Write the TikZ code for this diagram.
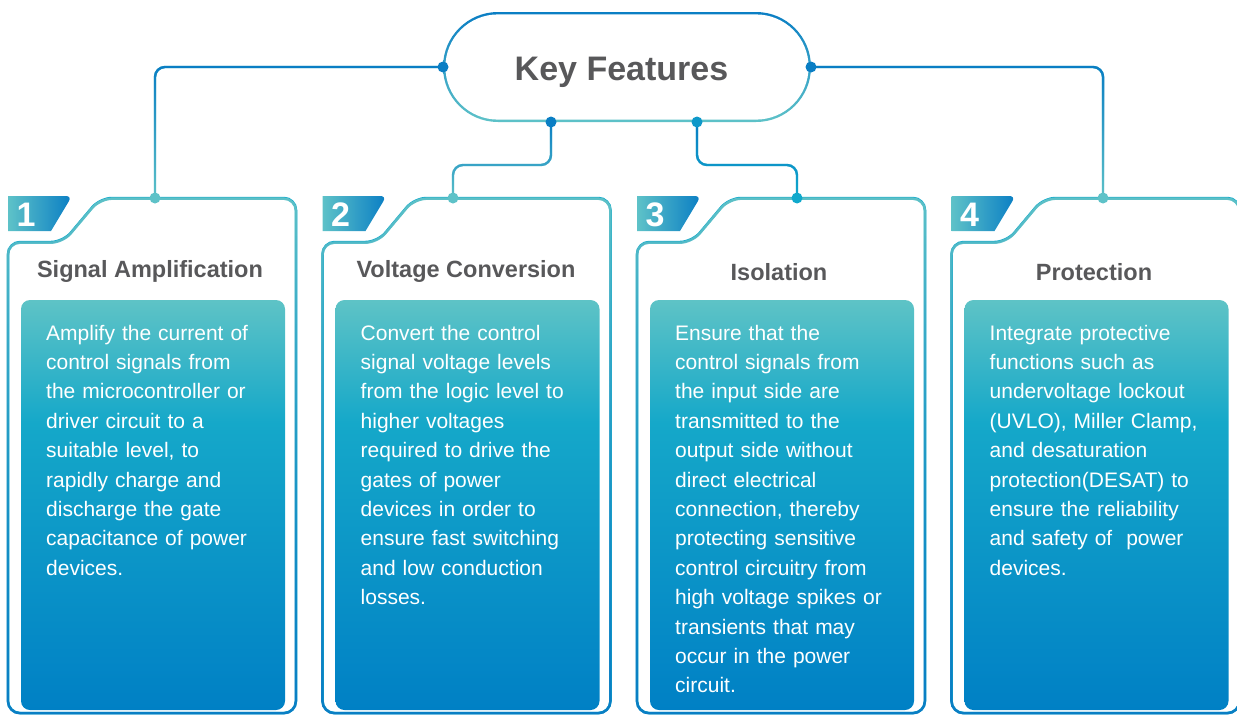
\documentclass[tikz,border=0pt]{standalone}
\usepackage{fontspec}
\setmainfont{Liberation Sans}
\usetikzlibrary{fadings}

\definecolor{kfteal}{HTML}{5EC2C8}
\definecolor{kfblue}{HTML}{0A7EC4}
\definecolor{kfcyan}{HTML}{10A9CC}
\definecolor{kfmid}{HTML}{15A8C9}
\definecolor{kfdeep}{HTML}{0080C5}
\definecolor{kflight}{HTML}{5EC3C6}
\definecolor{kfgrey}{HTML}{58585A}

\pgfdeclareverticalshading{cardfill}{100bp}{color(0bp)=(kfdeep); color(25bp)=(kfdeep);
  color(60bp)=(kfmid); color(75bp)=(kflight); color(100bp)=(kflight)}
\tikzfading[name=fade top part, top color=transparent!0, middle color=transparent!100,
  bottom color=transparent!100]
\tikzfading[name=fade bottom part, top color=transparent!100, middle color=transparent!100,
  bottom color=transparent!0]

\begin{document}
\begin{tikzpicture}[x=1pt,y=-1pt,
    wire/.style={line width=2.4pt, draw=kfteal},
    wireblue/.style={line width=2.4pt, draw=kfblue, path fading=south},
    edge/.style={line width=2.5pt, draw=kfcyan, rounded corners=12},
    heading/.style={font=\bfseries\fontsize{23.5}{28}\selectfont, text=kfgrey, anchor=base, inner sep=0pt},
    body/.style={font=\fontsize{21}{29.4}\selectfont, text=white, anchor=base west,
                 inner sep=0pt, align=left, text width=250pt},
    number/.style={font=\bfseries\fontsize{34}{34}\selectfont, text=white, anchor=base west, inner sep=0pt}]
        \useasboundingbox (0,0) rectangle (1237,715);

        % hub
        \shade[top color=kfblue, bottom color=kfteal, rounded corners=55] (443,12) rectangle (811,122);
        \fill[white, rounded corners=52.6] (445.4,14.4) rectangle (808.6,119.6);
        \node[font=\bfseries\fontsize{34}{34}\selectfont, text=kfgrey, anchor=base, inner sep=0pt]
             (key) at (621.5,80) {Key Features};

        \coordinate (kwest) at (443,67);
        \coordinate (keast) at (811,67);
        \coordinate (ksw) at (551,122);
        \coordinate (kse) at (697,122);
        \coordinate (amp) at (155,198);
        \coordinate (volt) at (453,198);
        \coordinate (iso) at (797,198);
        \coordinate (prot) at (1103,198);

        % cards
        \foreach \x/\n in {8/1,322.5/2,637/3,951.5/4}{
            \draw[edge] (\x,713) -- (\x,242) -- (\x+55,242) -- (\x+92,198)
                  -- (\x+288,198) -- (\x+288,713) -- cycle;
            \draw[edge, draw=kfteal, path fading=fade top part] (\x,713) -- (\x,242) -- (\x+55,242)
                  -- (\x+92,198) -- (\x+288,198) -- (\x+288,713) -- cycle;
            \draw[edge, draw=kfblue, path fading=fade bottom part] (\x,713) -- (\x,242) -- (\x+55,242)
                  -- (\x+92,198) -- (\x+288,198) -- (\x+288,713) -- cycle;
            \shade[left color=kfteal, right color=kfblue] (\x,196) [rounded corners=6] -- (\x+64,196)
                  [sharp corners] -- (\x+43,231) -- (\x,231) -- cycle;
            \node[number] at (\x+8.5,226) {\n};
            \shade[shading=cardfill, rounded corners=9] (\x+13,300) rectangle (\x+277,710);
        }

        % connectors
        \draw[wire, rounded corners=10] (kwest) -| (amp);
        \draw[wireblue, rounded corners=10] (kwest) -| (amp);
        \draw[wire, rounded corners=10] (keast) -| (prot);
        \draw[wireblue, rounded corners=10] (keast) -| (prot);
        \draw[wire, rounded corners=10] (ksw) -- ++(0,43) -| (volt);
        \draw[wireblue, rounded corners=10] (ksw) -- ++(0,43) -| (volt);
        \draw[wire, draw=kfcyan, rounded corners=10] (kse) -- ++(0,43) -| (iso);
        \draw[wireblue, rounded corners=10] (kse) -- ++(0,43) -| (iso);

        \fill[kfblue] (kwest) circle (5.5) (keast) circle (5.5) (ksw) circle (5.5);
        \fill[kfcyan!60!kfblue] (kse) circle (5.5);
        \fill[kfteal] (amp) circle (5.5) (volt) circle (5.5) (prot) circle (5.5);
        \fill[kfcyan] (iso) circle (5.5);

        % titles
        \node[heading] (ampT) at (150,277) {Signal Amplification};
        \node[heading] (voltT) at (466,277) {Voltage Conversion};
        \node[heading] (isoT) at (779,280) {Isolation};
        \node[heading] (protT) at (1094,280) {Protection};

        % texts
        \node[body] (ampB) at (46,340) {Amplify the current of\\control signals from\\the microcontroller or\\driver circuit to a\\suitable level, to\\rapidly charge and\\discharge the gate\\capacitance of power\\devices.};
        \node[body] (voltB) at (360.5,340) {Convert the control\\signal voltage levels\\from the logic level to\\higher voltages\\required to drive the\\gates of power\\devices in order to\\ensure fast switching\\and low conduction\\losses.};
        \node[body] (isoB) at (675,340) {Ensure that the\\control signals from\\the input side are\\transmitted to the\\output side without\\direct electrical\\connection, thereby\\protecting sensitive\\control circuitry from\\high voltage spikes or\\transients that may\\occur in the power\\circuit.};
        \node[body] (protB) at (989.5,340) {Integrate protective\\functions such as\\undervoltage lockout\\(UVLO), Miller Clamp,\\and desaturation\\protection(DESAT) to\\ensure the reliability\\and safety of~ power\\devices.};

    \end{tikzpicture}
\end{document}
